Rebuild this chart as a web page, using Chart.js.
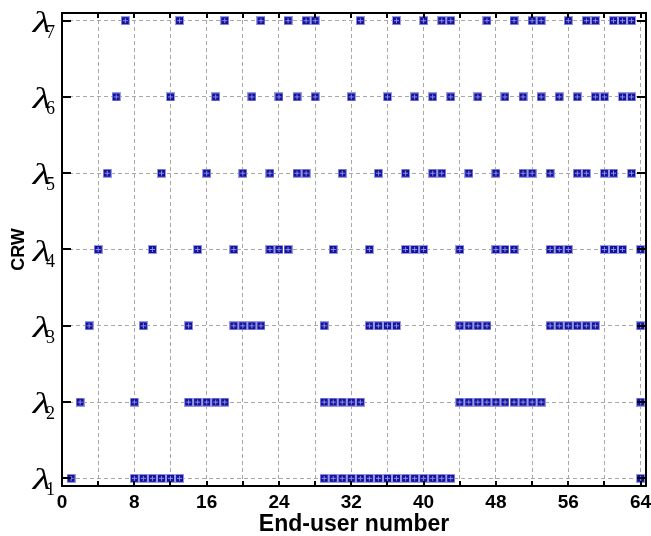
<!DOCTYPE html>
<html>
<head>
<meta charset="utf-8">
<script src="https://cdn.jsdelivr.net/npm/chart.js@4/dist/chart.umd.min.js"></script>
<style>
html,body{margin:0;padding:0;background:#fff;}
#wrap{width:651px;height:536px;}
</style>
</head>
<body>
<div id="wrap"><canvas id="c" width="651" height="536"></canvas></div>
<script>
// End-user numbers assigned to each wavelength
const lambda1 = [1, 8, 9, 10, 11, 12, 13, 29, 30, 31, 32, 33, 34, 35, 36, 37, 38, 39, 40, 41, 42, 43, 64];
const lambda2 = [2, 8, 14, 15, 16, 17, 18, 29, 30, 31, 32, 33, 44, 45, 46, 47, 48, 49, 50, 51, 52, 53, 64];
const lambda3 = [3, 9, 14, 19, 20, 21, 22, 29, 34, 35, 36, 37, 44, 45, 46, 47, 54, 55, 56, 57, 58, 59, 64];
const lambda4 = [4, 10, 15, 19, 23, 24, 25, 30, 34, 38, 39, 40, 44, 48, 49, 50, 54, 55, 56, 60, 61, 62, 64];
const lambda5 = [5, 11, 16, 20, 23, 26, 27, 31, 35, 38, 41, 42, 45, 48, 51, 52, 54, 57, 58, 60, 61, 63];
const lambda6 = [6, 12, 17, 21, 24, 26, 28, 32, 36, 39, 41, 43, 46, 49, 51, 53, 55, 57, 59, 60, 62, 63];
const lambda7 = [7, 13, 18, 22, 25, 27, 28, 33, 37, 40, 42, 43, 47, 50, 52, 53, 56, 58, 59, 61, 62, 63];
const rows = [lambda1, lambda2, lambda3, lambda4, lambda5, lambda6, lambda7];
const yLabels = ['1', '2', '3', '4', '5', '6', '7'];
const xTicks = [0, 4, 8, 12, 16, 20, 24, 28, 32, 36, 40, 44, 48, 52, 56, 60, 64];
const xTitle = 'End-user number';
const yTitle = 'CRW';

// marker image: dark blue square with faint cross
function makeMarker() {
  const c = document.createElement('canvas');
  c.width = 9; c.height = 9;
  const g = c.getContext('2d');
  g.fillStyle = '#9a9ae0';
  g.fillRect(0, 0, 9, 9);
  g.fillStyle = '#1212a2';
  g.fillRect(1, 1, 7, 7);
  g.fillStyle = '#8c8cd8';
  g.fillRect(4, 2, 1, 5);
  g.fillRect(2, 4, 5, 1);
  return c;
}
const marker = makeMarker();

const datasets = rows.map((arr, i) => ({
  label: 'λ' + yLabels[i],
  data: arr.map(u => ({x: u, y: i + 1})),
  pointStyle: marker,
  pointRadius: 4,
  showLine: false
}));

const framePlugin = {
  id: 'frame',
  afterDraw(chart) {
    const ctx = chart.ctx;
    const a = chart.chartArea;
    const xs = chart.scales.x, ys = chart.scales.y;
    ctx.save();
    ctx.strokeStyle = '#000';
    ctx.lineWidth = 2;
    ctx.strokeRect(a.left, a.top, a.right - a.left, a.bottom - a.top);
    ctx.beginPath();
    xTicks.forEach(v => {
      const px = Math.round(xs.getPixelForValue(v));
      ctx.moveTo(px, a.bottom); ctx.lineTo(px, a.bottom - 5);
      ctx.moveTo(px, a.top); ctx.lineTo(px, a.top + 5);
    });
    yLabels.forEach((l, i) => {
      const py = Math.round(ys.getPixelForValue(i + 1));
      ctx.moveTo(a.left, py); ctx.lineTo(a.left + 9, py);
      ctx.moveTo(a.right, py); ctx.lineTo(a.right - 9, py);
    });
    ctx.stroke();
    // y tick labels: lambda with subscript
    ctx.fillStyle = '#000';
    yLabels.forEach((l, i) => {
      const py = ys.getPixelForValue(i + 1);
      ctx.save();
      ctx.translate(51, py + 11);
      ctx.scale(1.45, 1);
      ctx.font = 'italic 29px "Liberation Serif"';
      ctx.textAlign = 'right';
      ctx.textBaseline = 'alphabetic';
      ctx.fillText('λ', 0, 0);
      ctx.restore();
      ctx.font = '18px "Liberation Serif"';
      ctx.textAlign = 'left';
      ctx.textBaseline = 'alphabetic';
      ctx.fillText(l, 46, py + 17);
    });
    ctx.restore();
  }
};

new Chart(document.getElementById('c'), {
  type: 'scatter',
  data: {datasets},
  options: {
    responsive: false,
    animation: false,
    layout: {padding: {top: 13, right: 4, left: 0, bottom: 0}},
    plugins: {legend: {display: false}, tooltip: {enabled: false}},
    scales: {
      x: {
        type: 'linear', min: 0, max: 64.6,
        afterBuildTicks: s => { s.ticks = xTicks.map(v => ({value: v})); },
        afterFit: s => { s.height = 50; s.paddingLeft = 0; s.paddingRight = 0; },
        grid: {color: '#a8a8a8', lineWidth: 1, drawTicks: false},
        border: {display: false, dash: [4, 3]},
        ticks: {
          color: '#000', padding: 5, maxRotation: 0, autoSkip: false,
          font: {family: '"Liberation Sans"', size: 19, weight: 'bold'},
          callback: v => (v % 8 === 0 ? String(v) : '')
        },
        title: {display: true, text: xTitle, color: '#000', padding: 0,
          font: {family: '"Liberation Sans"', size: 23, weight: 'bold', lineHeight: 1}}
      },
      y: {
        type: 'linear', min: 0.9, max: 7.1,
        afterBuildTicks: s => { s.ticks = yLabels.map((l, i) => ({value: i + 1})); },
        afterFit: s => { s.width = 62; s.paddingTop = 0; s.paddingBottom = 0; },
        grid: {color: '#a8a8a8', lineWidth: 1, drawTicks: false},
        border: {display: false, dash: [4, 3]},
        ticks: {display: false},
        title: {display: true, text: yTitle, color: '#000', padding: {top: 8, bottom: 0},
          font: {family: '"Liberation Sans"', size: 18, weight: 'bold', lineHeight: 1.2}}
      }
    }
  },
  plugins: [framePlugin]
});
</script>
</body>
</html>
